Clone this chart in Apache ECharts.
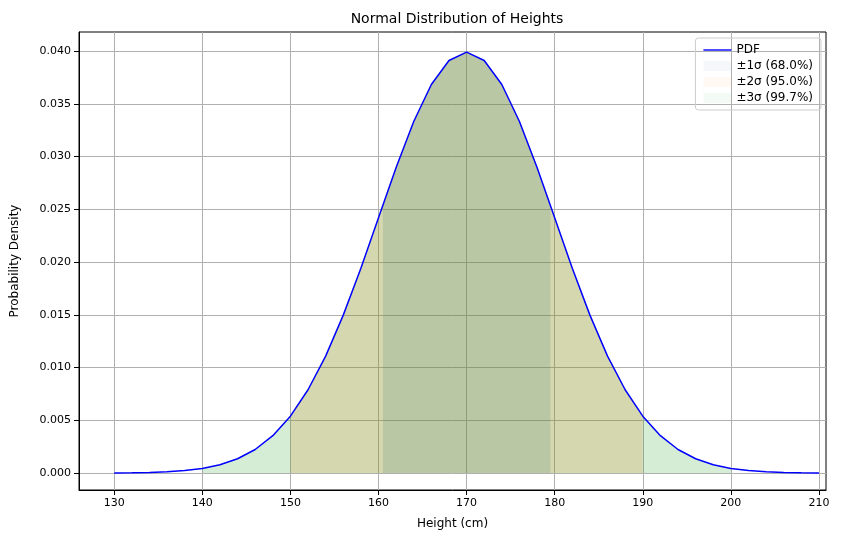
<!DOCTYPE html>
<html>
<head>
<meta charset="utf-8">
<script src="https://cdn.jsdelivr.net/npm/echarts@6/dist/echarts.min.js"></script>
<style>html,body{margin:0;padding:0;background:#fff}#chart{width:863px;height:547px}</style>
</head>
<body>
<div id="chart"></div>
<script>
// heights (cm) and density
var heights = [130,132,134,136,138,140,142,144,146,148,150,152,154,156,158,160,162,164,166,168,170,
               172,174,176,178,180,182,184,186,188,190,192,194,196,198,200,202,204,206,208,210];
var density = [0.00001,0.00003,0.00006,0.00012,0.00024,0.00044,0.00079,0.00136,0.00224,0.00355,0.00540,
               0.00790,0.01109,0.01497,0.01942,0.02420,0.02897,0.03332,0.03683,0.03910,0.03989,
               0.03910,0.03683,0.03332,0.02897,0.02420,0.01942,0.01497,0.01109,0.00790,0.00540,
               0.00355,0.00224,0.00136,0.00079,0.00044,0.00024,0.00012,0.00006,0.00003,0.00001];
// band edges (the 1 sigma band stops a little inside 160/180)
var band1 = [160.5, 179.5], band1EdgeY = 0.02541;
var band2 = [150, 190];
var band3 = [140, 200];
var xTicks = [130,140,150,160,170,180,190,200,210];
var yTicks = [0,0.005,0.010,0.015,0.020,0.025,0.030,0.035,0.040];

var curve = heights.map(function (h, i) { return [h, density[i]]; });

function bandData(lo, hi, edgeY) {
    var out = [];
    if (edgeY !== undefined) out.push([lo, edgeY]);
    curve.forEach(function (p) { if (p[0] >= lo && p[0] <= hi) out.push(p); });
    if (edgeY !== undefined) out.push([hi, edgeY]);
    return out;
}

function band(name, color, data) {
    return {
        name: name, type: 'line', data: data, symbol: 'none', smooth: false,
        lineStyle: { width: 0 }, itemStyle: { color: color, opacity: 0.2 },
        areaStyle: { color: color, opacity: 0.2 }, z: 1
    };
}

var chart = echarts.init(document.getElementById('chart'));
chart.setOption({
    animation: false,
    title: {
        text: 'Normal Distribution of Heights', left: 452, top: 7, textAlign: 'center',
        textStyle: { fontFamily: 'DejaVu Sans', fontSize: 14, fontWeight: 'normal', color: '#000' }
    },
    legend: {
        orient: 'vertical', right: 42, top: 38, itemGap: 4, itemWidth: 28, itemHeight: 10,
        borderColor: '#ccc', borderWidth: 1, borderRadius: 3, padding: [6, 8],
        textStyle: { fontFamily: 'DejaVu Sans', fontSize: 12, color: '#000' },
        data: [{ name: 'PDF', icon: 'path://M0,5L30,5L30,6.5L0,6.5Z', itemStyle: { color: '#0000ff', opacity: 1 } },
               { name: '±1σ (68.0%)', icon: 'rect', itemStyle: { color: 'rgba(31,119,180,0.25)' } },
               { name: '±2σ (95.0%)', icon: 'rect', itemStyle: { color: 'rgba(255,127,14,0.25)' } },
               { name: '±3σ (99.7%)', icon: 'rect', itemStyle: { color: 'rgba(44,160,44,0.25)' } }]
    },
    grid: { left: 79, right: 37, top: 32, bottom: 57, show: true, borderColor: '#000', borderWidth: 1 },
    xAxis: {
        type: 'value', min: 126, max: 210.8,
        name: 'Height (cm)', nameLocation: 'middle', nameGap: 28,
        nameTextStyle: { fontFamily: 'DejaVu Sans', fontSize: 12, color: '#000' },
        axisLine: { onZero: false, lineStyle: { color: '#000' } },
        axisTick: { show: true, customValues: xTicks, lineStyle: { color: '#000' } },
        axisLabel: { customValues: xTicks, fontFamily: 'DejaVu Sans', fontSize: 11, color: '#000' },
        splitLine: { show: true, lineStyle: { color: '#b0b0b0' } }
    },
    yAxis: {
        type: 'value', min: -0.0016, max: 0.0418,
        name: 'Probability Density', nameLocation: 'middle', nameGap: 58,
        nameTextStyle: { fontFamily: 'DejaVu Sans', fontSize: 12, color: '#000' },
        axisLine: { show: true, lineStyle: { color: '#000' } },
        axisTick: { show: true, customValues: yTicks, lineStyle: { color: '#000' } },
        axisLabel: { customValues: yTicks, fontFamily: 'DejaVu Sans', fontSize: 11, color: '#000',
                     formatter: function (v) { return v.toFixed(3); } },
        splitLine: { show: true, lineStyle: { color: '#b0b0b0' } }
    },
    series: [
        band('±1σ (68.0%)', '#1f77b4', bandData(band1[0], band1[1], band1EdgeY)),
        band('±2σ (95.0%)', '#ff7f0e', bandData(band2[0], band2[1])),
        band('±3σ (99.7%)', '#2ca02c', bandData(band3[0], band3[1])),
        { name: 'PDF', type: 'line', data: curve, symbol: 'none', smooth: false, z: 3,
          lineStyle: { color: '#0000ff', width: 1.5 }, itemStyle: { color: '#0000ff' } }
    ]
});
</script>
</body>
</html>
